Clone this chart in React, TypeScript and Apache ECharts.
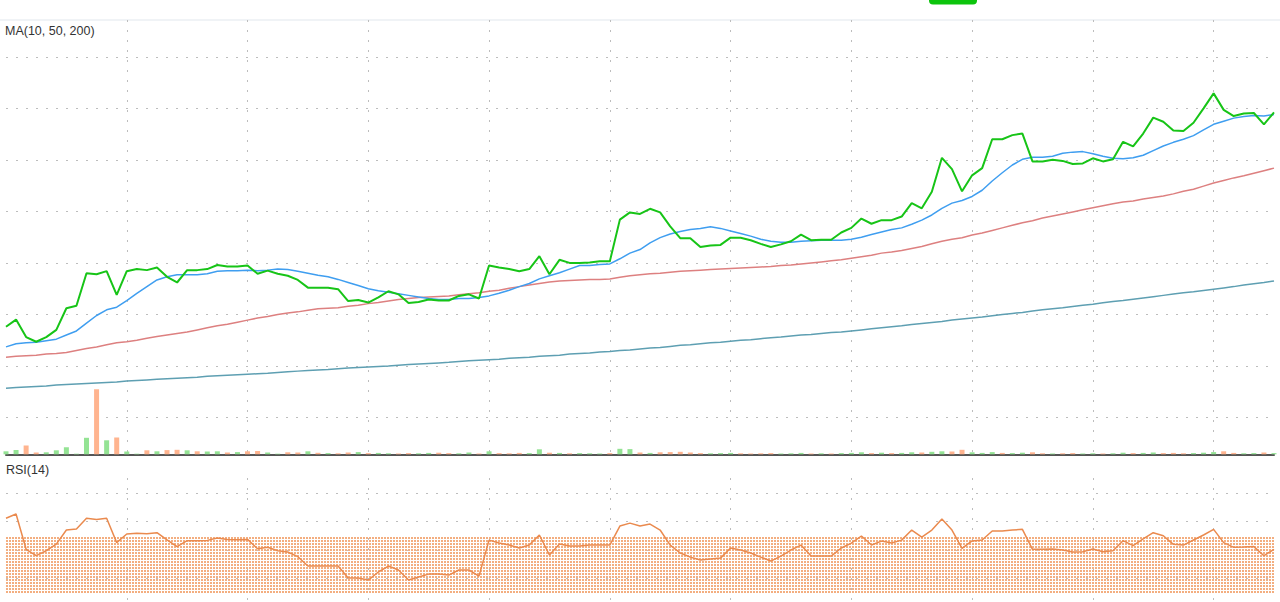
import React, { useEffect, useRef } from "react";
import * as echarts from "echarts";

const categories = Array.from({ length: 127 }, (_, i) => `D${i + 1}`);

const price = [117.6,119.0,115.6,114.7,115.6,117.0,121.2,121.7,128.0,127.8,
128.4,123.8,128.4,128.8,128.6,129.1,127.3,126.2,128.6,128.6,
128.8,129.6,129.3,129.3,129.5,127.9,128.5,127.9,127.5,126.7,
125.2,125.2,125.2,124.9,122.6,122.8,122.3,123.3,124.5,123.9,
122.2,122.4,122.9,122.7,122.7,123.6,123.9,123.1,129.5,129.1,
128.8,128.4,128.8,131.3,127.8,130.6,130.0,130.0,130.1,130.3,
130.3,138.4,139.8,139.5,140.5,139.8,137.1,134.8,134.8,133.1,
133.4,133.5,134.9,134.9,134.4,133.7,133.1,133.6,134.2,135.5,
134.4,134.5,134.5,135.9,136.8,138.6,137.6,138.3,138.3,139.0,
141.6,140.6,143.8,150.4,148.2,143.9,147.0,148.4,154.0,154.0,
154.8,155.1,149.7,149.7,150.0,149.8,149.2,149.3,150.3,149.7,
150.1,153.5,152.6,155.1,158.2,157.4,155.7,155.6,157.2,160.0,
162.9,159.7,158.5,159.0,159.1,156.9,159.2];

const ma10 = [113.7,114.3,114.5,114.6,114.9,115.2,116.0,116.8,118.3,119.8,
120.9,121.4,122.7,124.1,125.4,126.7,127.3,127.7,127.7,127.7,
127.9,128.4,128.5,128.5,128.6,128.5,128.6,128.8,128.7,128.4,
128.0,127.6,127.3,126.8,126.2,125.6,125.0,124.6,124.3,124.0,
123.7,123.4,123.1,122.9,122.9,123.1,123.1,123.3,123.6,124.1,
124.7,125.4,126.0,126.9,127.5,128.1,128.8,129.5,129.5,129.7,
129.8,130.8,131.9,132.6,133.9,134.9,135.6,136.1,136.5,136.7,
137.0,136.7,136.2,135.7,135.2,134.6,134.2,134.0,134.0,134.2,
134.3,134.4,134.4,134.4,134.6,135.0,135.5,136.0,136.5,136.8,
137.5,138.3,139.3,140.6,141.6,142.1,142.9,144.1,145.9,147.5,
149.0,150.1,150.5,150.5,150.7,151.3,151.5,151.6,151.2,150.7,
150.3,150.2,150.4,150.9,151.8,152.7,153.4,154.0,154.7,155.8,
156.9,157.5,158.1,158.4,158.6,158.5,158.8];

const ma50 = [111.7,111.9,112.0,112.1,112.3,112.4,112.6,113.0,113.4,113.7,
114.1,114.5,114.7,115.0,115.4,115.7,116.0,116.3,116.6,117.0,
117.4,117.8,118.1,118.5,118.9,119.3,119.6,120.0,120.3,120.5,
120.8,121.1,121.2,121.3,121.6,121.8,122.1,122.3,122.6,122.9,
123.1,123.3,123.4,123.5,123.6,123.8,124.0,124.2,124.5,124.7,
125.1,125.4,125.7,126.0,126.3,126.5,126.6,126.7,126.8,126.8,
126.9,127.2,127.5,127.7,127.9,128.0,128.2,128.4,128.5,128.6,
128.7,128.8,128.9,129.0,129.1,129.2,129.3,129.5,129.6,129.8,
130.0,130.2,130.4,130.6,130.9,131.2,131.5,131.9,132.1,132.4,
132.8,133.2,133.7,134.2,134.6,134.9,135.4,135.8,136.3,136.8,
137.3,137.8,138.2,138.7,139.1,139.5,139.9,140.3,140.7,141.1,
141.5,141.8,142.0,142.4,142.7,143.0,143.4,143.9,144.3,144.9,
145.5,146.0,146.5,146.9,147.4,147.9,148.4];

const ma200 = [105.7,105.8,105.9,106.0,106.1,106.3,106.4,106.5,106.6,106.7,
106.8,106.9,107.1,107.2,107.3,107.4,107.5,107.6,107.7,107.8,
108.0,108.1,108.2,108.3,108.4,108.5,108.6,108.75,108.9,109.0,
109.1,109.2,109.3,109.45,109.6,109.7,109.8,109.9,110.0,110.15,
110.3,110.4,110.5,110.6,110.7,110.85,111.0,111.1,111.2,111.3,
111.5,111.6,111.7,111.9,112.0,112.1,112.3,112.4,112.5,112.7,
112.8,113.0,113.1,113.3,113.5,113.6,113.8,114.0,114.1,114.3,
114.5,114.6,114.8,115.0,115.1,115.3,115.5,115.6,115.8,116.0,
116.1,116.3,116.5,116.6,116.8,117.0,117.2,117.4,117.6,117.8,
118.05,118.25,118.45,118.65,118.9,119.1,119.3,119.5,119.75,120.0,
120.2,120.4,120.65,120.9,121.1,121.3,121.55,121.8,122.0,122.25,
122.5,122.7,122.95,123.2,123.45,123.7,123.95,124.2,124.4,124.65,
124.9,125.15,125.4,125.7,125.95,126.2,126.5];

const volume = [30,42,88,18,20,40,70,6,165,650,
140,168,28,6,40,30,42,45,40,30,
28,30,18,22,30,32,18,6,20,18,
30,15,12,10,18,22,12,14,10,8,
12,10,14,16,12,10,18,8,30,12,
10,14,12,50,16,14,10,12,10,8,
12,55,52,18,14,20,22,25,18,12,
10,12,14,10,8,10,12,8,10,14,
8,10,8,12,14,20,12,16,12,14,
20,18,25,30,28,45,20,14,22,14,
12,16,20,10,8,10,12,8,10,8,
10,16,12,14,18,12,14,10,12,16,
22,30,14,10,12,18,12];

const volumeUp = [1,1,0,0,1,1,1,1,1,0,
1,0,1,1,0,1,0,0,1,0,
1,1,0,1,0,0,1,1,0,0,
1,0,1,0,0,1,0,1,1,0,
0,1,1,0,0,1,1,0,1,0,
0,0,1,1,0,1,0,1,1,1,
0,1,1,0,1,0,0,0,0,0,
1,1,1,0,0,0,0,1,1,1,
0,1,0,1,1,1,0,1,0,1,
1,0,1,1,0,0,1,1,1,0,
1,1,0,0,1,0,0,1,1,0,
1,1,0,1,1,0,0,0,1,1,
1,0,0,1,1,0,1];

const rsi = [62.4,65.4,40.5,36.0,39.5,44.2,54.1,54.8,62.4,61.6,
62.4,45.2,51.3,51.8,51.5,52.2,47.1,42.4,46.6,46.6,
46.8,48.5,47.5,47.3,47.5,40.9,41.9,39.5,38.6,35.3,
28.7,28.7,28.7,28.7,20.2,20.2,18.8,24.5,28.7,25.9,
18.8,20.9,23.0,23.0,22.3,25.9,25.9,21.6,47.0,44.9,
43.5,41.4,43.5,50.6,36.5,44.2,42.8,42.8,43.5,43.5,
43.5,56.9,59.0,56.9,58.3,54.1,43.5,37.9,35.0,32.9,
33.6,34.3,41.4,40.0,37.9,35.0,32.2,35.7,40.0,43.5,
35.7,35.7,35.7,41.4,44.9,49.9,43.5,46.3,44.9,47.0,
54.1,49.1,54.1,61.9,54.1,41.2,46.4,47.1,53.4,53.4,
54.1,54.6,40.5,40.5,40.7,40.0,38.6,38.8,40.7,38.8,
39.5,46.6,43.1,47.8,52.2,50.1,44.0,43.5,47.1,50.6,
54.6,45.2,41.9,42.1,42.4,36.0,40.5];

const rsiBand = [49.2, 9.4];

export default function App() {
  const ref = useRef<HTMLDivElement>(null);
  useEffect(() => {
    const chart = echarts.init(ref.current!, null, { renderer: "svg" });
    const cv = document.createElement("canvas");
    cv.width = 3;
    cv.height = 3;
    const ctx = cv.getContext("2d")!;
    ctx.fillStyle = "#f3ae80";
    ctx.fillRect(0, 0, 2, 2);
    const pattern: any = { image: cv.toDataURL(), repeat: "repeat", imageWidth: 3, imageHeight: 3 };

    const dotted = { color: "#bdbdbd", width: 1, type: [2, 8] as any };
    const vInterval = (i: number) => i > 0 && i % 12 === 0;
    const baseX = {
      type: "category" as const,
      data: categories,
      boundaryGap: false,
      axisLabel: { show: false },
      axisTick: { show: false },
      axisLine: { show: false },
      splitLine: { show: false },
    };
    const left = 6;
    const right = 6;
    const gridBase: any = { left, right, outerBoundsMode: "none", containLabel: false };

    chart.setOption({
      animation: false,
      grid: [
        { ...gridBase, top: 56.8, height: 360.7 },
        { ...gridBase, top: 20, height: 434.3 },
        { ...gridBase, top: 465, height: 141.7 },
        { ...gridBase, top: 478, height: 130 },
      ],
      xAxis: [
        { ...baseX, gridIndex: 0 },
        {
          ...baseX,
          gridIndex: 1,
          axisLine: { show: true, lineStyle: { color: "#555", width: 2 } },
          splitLine: { show: true, interval: vInterval, lineStyle: dotted },
        },
        { ...baseX, gridIndex: 2 },
        { ...baseX, gridIndex: 3, splitLine: { show: true, interval: vInterval, lineStyle: dotted } },
      ],
      yAxis: [
        {
          type: "value", gridIndex: 0, min: 100, max: 170, interval: 10,
          axisLabel: { show: false }, axisLine: { show: false }, axisTick: { show: false },
          splitLine: { show: true, lineStyle: dotted },
        },
        {
          type: "value", gridIndex: 1, min: 0, max: 4340,
          axisLabel: { show: false }, axisLine: { show: false }, axisTick: { show: false },
          splitLine: { show: false },
        },
        {
          type: "value", gridIndex: 2, min: 0, max: 100, interval: 20,
          axisLabel: { show: false }, axisLine: { show: false }, axisTick: { show: false },
          splitLine: { show: true, showMinLine: false, showMaxLine: false, lineStyle: dotted },
        },
        {
          type: "value", gridIndex: 3, min: 0, max: 1,
          axisLabel: { show: false }, axisLine: { show: false }, axisTick: { show: false },
          splitLine: { show: false },
        },
      ],
      graphic: [
        { type: "rect", shape: { x: 0, y: 19.5, width: 1280, height: 1 }, style: { fill: "#e1e7ee" } },
        { type: "rect", shape: { x: 929, y: -8, width: 48, height: 12.5, r: 4 }, style: { fill: "#0cc40c" } },
        {
          type: "text", x: 5, y: 31,
          style: { text: "MA(10, 50, 200)", fill: "#333", font: '12.5px "Liberation Sans", Arial, sans-serif', verticalAlign: "middle" },
        },
        {
          type: "text", x: 6, y: 469.5,
          style: { text: "RSI(14)", fill: "#333", font: '12.5px "Liberation Sans", Arial, sans-serif', verticalAlign: "middle" },
        },
      ],
      series: [
        {
          type: "bar", xAxisIndex: 1, yAxisIndex: 1, barWidth: 5, silent: true,
          data: volume.map((v, i) => ({ value: v, itemStyle: { color: volumeUp[i] ? "#94e394" : "#ffb48f" } })),
        },
        {
          type: "line", name: "MA200", xAxisIndex: 0, yAxisIndex: 0, data: ma200, symbol: "none",
          lineStyle: { color: "#5e9fb2", width: 1.5 },
        },
        {
          type: "line", name: "MA50", xAxisIndex: 0, yAxisIndex: 0, data: ma50, symbol: "none",
          lineStyle: { color: "#dd8080", width: 1.5 },
        },
        {
          type: "line", name: "MA10", xAxisIndex: 0, yAxisIndex: 0, data: ma10, symbol: "none",
          lineStyle: { color: "#3f9ef0", width: 1.5 },
        },
        {
          type: "line", name: "Price", xAxisIndex: 0, yAxisIndex: 0, data: price, symbol: "none",
          lineStyle: { color: "#17c417", width: 2 },
        },
        {
          type: "line", name: "RSI", xAxisIndex: 2, yAxisIndex: 2, data: rsi, symbol: "none",
          lineStyle: { color: "#ea8a4e", width: 1.5 },
          markArea: {
            silent: true,
            itemStyle: { color: pattern },
            data: [[{ yAxis: rsiBand[0] }, { yAxis: rsiBand[1] }]],
          },
        },
      ],
    });
    return () => chart.dispose();
  }, []);
  return <div ref={ref} style={{ position: "absolute", left: 0, top: 0, width: 1280, height: 602 }} />;
}
